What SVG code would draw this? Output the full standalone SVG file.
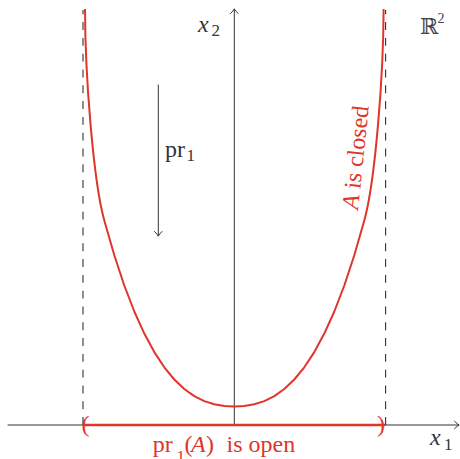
<svg xmlns="http://www.w3.org/2000/svg" width="460" height="459" viewBox="0 0 460 459">
<rect width="460" height="459" fill="#fff"/>
<g id="connectors" stroke="#333" stroke-width="1" fill="none" stroke-linecap="round">
<line id="x-axis" x1="8" y1="425" x2="459" y2="425"/>
<path id="x-axis-head" d="M454.5,421.2 Q457.4,424.1 459,425 Q457.4,425.9 454.5,428.8"/>
<line id="y-axis" x1="234.3" y1="425" x2="234.3" y2="9"/>
<path id="y-axis-head" d="M230.5,13.5 Q233.4,10.6 234.3,9 Q235.2,10.6 238.1,13.5"/>
<line id="dash-left" stroke-linecap="butt" stroke-width="1.1" stroke-dasharray="7.9 7.9" x1="83" y1="425" x2="83" y2="10"/>
<line id="dash-right" stroke-linecap="butt" stroke-width="1.1" stroke-dasharray="7.9 7.9" x1="385.6" y1="425" x2="385.6" y2="10"/>
<line id="pr-arrow" x1="158.3" y1="85" x2="158.3" y2="236"/>
<path id="pr-arrow-head" d="M154.5,231.5 Q157.4,234.4 158.3,236 Q159.2,234.4 162.1,231.5"/>
</g>
<g id="set-A">
<path stroke="#e0352b" fill="none" stroke-linejoin="round" stroke-width="2" d="M85.0,9 C85.1,75 93.3,180.9 104.3,220.5 L114.3,255.3 L124.3,285.5 L134.3,311.5 L144.3,333.6 L154.3,352.1 L164.3,367.3 L174.3,379.5 L184.3,389.0 L194.3,396.1 L204.3,401.1 L214.3,404.3 L224.3,406.0 L234.3,406.5 L244.3,406.0 L254.3,404.3 L264.3,401.1 L274.3,396.1 L284.3,389.0 L294.3,379.5 L304.3,367.3 L314.3,352.1 L324.3,333.6 L334.3,311.5 L344.3,285.5 L354.3,255.3 L364.3,220.5 C375.3,180.9 383.5,75 383.6,9"/>
</g>
<g id="projection">
<line stroke="#e0352b" stroke-width="2.4" x1="84" y1="425" x2="385" y2="425"/>
<text x="81.5" y="432" font-family="Liberation Serif, serif" font-size="24" fill="#e0352b">(</text>
<text x="377" y="432" font-family="Liberation Serif, serif" font-size="24" fill="#e0352b">)</text>
</g>
<g id="label-x2">
<text x="198" y="31.5" font-family="Liberation Serif, serif" font-size="24" fill="#333"><tspan font-style="italic">x</tspan><tspan font-size="17" x="211.5" y="36">2</tspan></text>
</g>
<g id="label-x1">
<text x="430" y="445" font-family="Liberation Serif, serif" font-size="24" fill="#333"><tspan font-style="italic">x</tspan><tspan font-size="17" x="444" y="449.5">1</tspan></text>
</g>
<g id="label-R2">
<text x="420" y="34.3" font-family="DejaVu Serif, serif" font-size="22" fill="#444">&#x211D;<tspan x="437.5" y="22.5" font-size="14" font-family="Liberation Serif, serif">2</tspan></text>
</g>
<g id="label-pr1">
<text x="165" y="156.7" font-family="Liberation Serif, serif" font-size="24" fill="#333">pr<tspan font-size="17" x="186.5" y="161">1</tspan></text>
</g>
<g id="label-closed">
<text transform="translate(358,210) rotate(-84)" font-family="Liberation Serif, serif" font-size="24" fill="#e0352b"><tspan font-style="italic">A</tspan> is closed</text>
</g>
<g id="label-open" font-family="Liberation Serif, serif" font-size="24" fill="#e0352b">
<text x="152.7" y="452.3">pr<tspan x="176.5" y="461.5" font-size="17">1</tspan><tspan x="184.5" y="452.3">(</tspan><tspan x="191" font-style="italic">A</tspan><tspan x="206">)</tspan><tspan x="226.5">is open</tspan></text>
</g>
</svg>
